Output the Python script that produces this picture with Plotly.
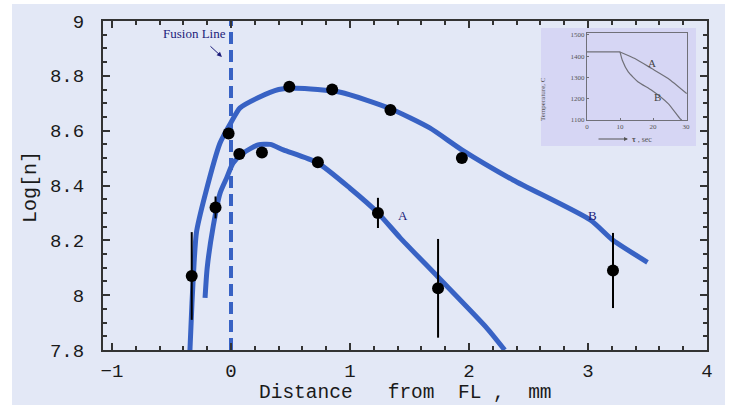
import plotly.graph_objects as go

# ---------------- data ----------------
pts_x = [-0.33, -0.13, -0.02, 0.07, 0.26, 0.49, 0.73, 0.85, 1.235, 1.34, 1.74, 1.94, 3.21]
pts_y = [8.07, 8.32, 8.59, 8.515, 8.52, 8.76, 8.485, 8.75, 8.30, 8.675, 8.025, 8.50, 8.09]
pts_err = [0.16, 0.04, 0, 0, 0, 0, 0, 0, 0.055, 0, 0.18, 0, 0.137]

curveA_x = [-0.218, -0.20, -0.15, -0.092, -0.034, 0.017, 0.10, 0.227, 0.33, 0.44, 0.73, 1.0, 1.235, 1.42, 1.74, 2.15, 2.30]
curveA_y = [7.99, 8.10, 8.25, 8.372, 8.43, 8.482, 8.518, 8.548, 8.55, 8.53, 8.482, 8.39, 8.30, 8.21, 8.066, 7.88, 7.80]

curveB_x = [-0.345, -0.328, -0.31, -0.29, -0.218, -0.092, 0.0, 0.076, 0.227, 0.40, 0.55, 0.92, 1.34, 1.67, 1.94, 2.37, 3.02, 3.21, 3.50]
curveB_y = [7.80, 7.97, 8.12, 8.23, 8.365, 8.555, 8.63, 8.683, 8.72, 8.75, 8.755, 8.74, 8.68, 8.61, 8.53, 8.42, 8.274, 8.20, 8.12]

fusion_x = 0.0
y_min, y_max = 7.8, 9.0
x_ticks = [-1, 0, 1, 2, 3, 4]

# inset: temperature history
inset_flat_t = [0, 10]
inset_flat_T = [1420, 1420]
inset_A_t = [10, 14.5, 19.6, 24.6, 30.2]
inset_A_T = [1420, 1389, 1342, 1295, 1224]
inset_B_t = [10, 10.7, 12.5, 15.5, 19.6, 24.6, 28.2, 28.7]
inset_B_T = [1420, 1381, 1326, 1279, 1240, 1177, 1106, 1100]
inset_yticks = [1100, 1200, 1300, 1400, 1500]
inset_yticktext = ["1100", "1200", "1300", "1400", "1500"]
inset_xticks = [0, 10, 20, 30]

BLUE = "#3862C4"
AXC = "#333333"
NAVY = "#1c1c7a"
BG = "#E3E8F6"
INSET_BG = "#D6D6F4"
MONO = "Liberation Mono, Courier New, monospace"
SERIF = "Liberation Serif, Times New Roman, serif"

fig = go.Figure()

fig.add_trace(go.Scatter(x=[fusion_x, fusion_x], y=[y_min, y_max], mode="lines",
                         line=dict(color=BLUE, width=4, dash="12px,6px"),
                         showlegend=False, hoverinfo="skip"))
fig.add_trace(go.Scatter(x=curveB_x, y=curveB_y, mode="lines",
                         line=dict(color=BLUE, width=5, shape="spline", smoothing=0.6), showlegend=False))
fig.add_trace(go.Scatter(x=curveA_x, y=curveA_y, mode="lines",
                         line=dict(color=BLUE, width=5, shape="spline", smoothing=0.6), showlegend=False))
fig.add_trace(go.Scatter(x=pts_x, y=pts_y, mode="markers",
                         marker=dict(color="black", size=12),
                         error_y=dict(type="data", array=pts_err, visible=True,
                                      color="black", thickness=2, width=0),
                         showlegend=False))

# inset traces
for tx, ty in [(inset_flat_t, inset_flat_T), (inset_A_t, inset_A_T), (inset_B_t, inset_B_T)]:
    fig.add_trace(go.Scatter(x=tx, y=ty, mode="lines", xaxis="x2", yaxis="y2",
                             line=dict(color="#707078", width=1.2, shape="spline", smoothing=0.5),
                             showlegend=False))

# geometry helpers (paper coords)
L, R, T, B = 103, 707, 21, 350
W, H = R - L, B - T
def px(x):
    return (x - L) / W
def py(y):
    return (B - y) / H

fig.add_shape(type="rect", xref="paper", yref="paper", x0=px(12), x1=px(725), y0=py(405), y1=py(4),
              fillcolor=BG, line=dict(width=0), layer="below")
fig.add_shape(type="rect", xref="paper", yref="paper", x0=px(541), x1=px(696), y0=py(146), y1=py(28),
              fillcolor=INSET_BG, line=dict(width=0), layer="below")

axis_common = dict(showgrid=False, zeroline=False, showline=True, linewidth=2, linecolor=AXC,
                   ticks="inside", ticklen=7, tickwidth=2, tickcolor=AXC, mirror="ticks",
                   tickfont=dict(family=MONO, size=19, color="#1a1a1a"))

fig.update_layout(
    width=729, height=405,
    margin=dict(l=L, r=729 - R, t=T, b=405 - B, pad=0),
    paper_bgcolor="white", plot_bgcolor="rgba(0,0,0,0)",
    xaxis=dict(range=[-1.0756, 4.0], tickvals=x_ticks, ticklabelstandoff=2,
               minor=dict(dtick=0.2, tick0=0, ticks="inside", ticklen=4, tickwidth=2, tickcolor=AXC),
               **axis_common),
    yaxis=dict(range=[y_min, y_max], dtick=0.2, tick0=7.8, ticklabelstandoff=13,
               minor=dict(dtick=0.05, tick0=7.8, ticks="inside", ticklen=4, tickwidth=2, tickcolor=AXC),
               **axis_common),
    xaxis2=dict(domain=[px(587), px(687)], anchor="y2", range=[0, 30.3], tickvals=inset_xticks,
                showgrid=False, zeroline=False, showline=True, linewidth=1, linecolor="#707078",
                mirror=True, ticks="inside", ticklen=2, tickcolor="#707078",
                tickfont=dict(family=SERIF, size=7, color="#555")),
    yaxis2=dict(domain=[py(120), py(33)], anchor="x2", range=[1100, 1509], tickvals=inset_yticks,
                ticktext=inset_yticktext,
                showgrid=False, zeroline=False, showline=True, linewidth=1, linecolor="#707078",
                mirror=True, ticks="inside", ticklen=2, tickcolor="#707078",
                tickfont=dict(family=SERIF, size=7, color="#555")),
)

ann = []
# axis titles
ann.append(dict(text="Distance\u00a0\u00a0\u00a0from\u00a0\u00a0FL\u00a0,\u00a0\u00a0mm", xref="paper", yref="paper",
                x=px(405), y=py(393), showarrow=False, font=dict(family=MONO, size=19.5, color="#1a1a1a"),
                xanchor="center", yanchor="middle"))
ann.append(dict(text="Log[n]", xref="paper", yref="paper", x=px(30), y=py(187), textangle=-90,
                showarrow=False, font=dict(family=MONO, size=20, color="#1a1a1a"),
                xanchor="center", yanchor="middle"))
# labels
ann.append(dict(text="Fusion Line", x=-0.31, y=8.956, showarrow=False,
                font=dict(family=SERIF, size=13, color=NAVY)))
ann.append(dict(text="", x=-0.076, y=8.869, ax=-13, ay=-12, showarrow=True, arrowhead=2,
                arrowsize=1, arrowwidth=1, arrowcolor=NAVY))
ann.append(dict(text="A", x=1.445, y=8.292, showarrow=False, font=dict(family=SERIF, size=13, color=NAVY)))
ann.append(dict(text="B", x=3.034, y=8.292, showarrow=False, font=dict(family=SERIF, size=13, color=NAVY)))
# inset labels
ann.append(dict(text="A", x=19.7, y=1367, xref="x2", yref="y2", showarrow=False,
                font=dict(family=SERIF, size=11, color="#444")))
ann.append(dict(text="B", x=21.5, y=1208, xref="x2", yref="y2", showarrow=False,
                font=dict(family=SERIF, size=11, color="#444")))
ann.append(dict(text="Temperature, C", xref="paper", yref="paper", x=px(549), y=py(75), textangle=-90,
                showarrow=False, font=dict(family=SERIF, size=7, color="#555")))
ann.append(dict(text="", xref="paper", yref="paper", x=px(628), y=py(139), ax=-31, ay=0,
                showarrow=True, arrowhead=2, arrowsize=0.8, arrowwidth=1, arrowcolor="#555"))
ann.append(dict(text="<b>τ</b> , sec", xref="paper", yref="paper", x=px(654), y=py(139),
                showarrow=False, font=dict(family=SERIF, size=8, color="#555")))
fig.update_layout(annotations=ann)

fig.write_html("out.html", config={"displayModeBar": False},
               post_script="document.body.style.margin='0';document.body.style.overflow='hidden';")
